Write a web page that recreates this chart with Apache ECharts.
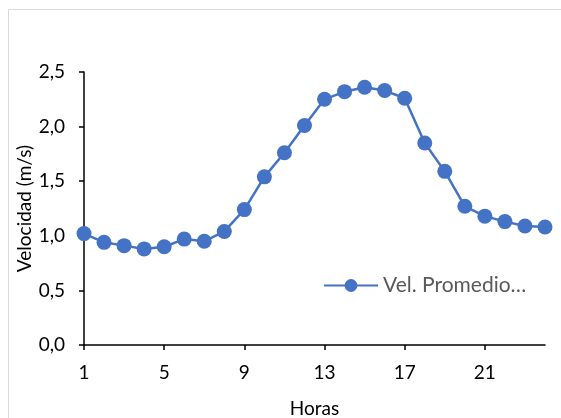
<!DOCTYPE html>
<html>
<head>
<meta charset="utf-8">
<script src="https://cdn.jsdelivr.net/npm/echarts@6/dist/echarts.min.js"></script>
<style>html,body{margin:0;padding:0;background:#fff;}#c{width:561px;height:418px;}</style>
</head>
<body>
<div id="c"></div>
<script>
const hours = ['1','2','3','4','5','6','7','8','9','10','11','12','13','14','15','16','17','18','19','20','21','22','23','24'];
const velocity = [1.02,0.94,0.91,0.88,0.90,0.97,0.95,1.04,1.24,1.54,1.76,2.01,2.25,2.32,2.36,2.33,2.26,1.85,1.59,1.27,1.18,1.13,1.09,1.08];
const seriesName = 'Vel. Promedio…';
const xTitle = 'Horas';
const yTitle = 'Velocidad (m/s)';

const font = 'Lato, "Open Sans", sans-serif';
const chart = echarts.init(document.getElementById('c'));
chart.setOption({
  animation: false,
  textStyle: {fontFamily: font},
  graphic: [{
    type: 'rect', silent: true,
    shape: {x: 8.5, y: 9.5, width: 600, height: 500},
    style: {fill: 'none', stroke: '#d9d9d9', lineWidth: 1}
  }],
  grid: {left: 84, right: 16, top: 72, bottom: 73, containLabel: false, outerBoundsMode: 'none'},
  legend: {
    left: 318, top: 270,
    itemWidth: 54, itemHeight: 16, itemGap: 4,
    textStyle: {color: '#595959', fontSize: 21, fontFamily: font},
    data: [seriesName]
  },
  xAxis: {
    type: 'category', data: hours, boundaryGap: false,
    name: xTitle, nameLocation: 'middle', nameGap: 54, nameMoveOverlap: false,
    nameTextStyle: {color: '#000', fontSize: 19, fontFamily: font},
    axisLine: {lineStyle: {color: '#000', width: 1.5}},
    axisTick: {show: true, inside: false, length: 5, interval: 3, alignWithLabel: true, lineStyle: {color: '#000', width: 1.5}},
    axisLabel: {interval: 3, color: '#000', fontSize: 19, margin: 18, fontFamily: font},
    splitLine: {show: false}
  },
  yAxis: {
    type: 'value', min: 0, max: 2.5, interval: 0.5,
    name: yTitle, nameLocation: 'middle', nameGap: 50, nameRotate: 90, nameMoveOverlap: false,
    nameTextStyle: {color: '#000', fontSize: 19, fontFamily: font},
    axisLine: {show: true, lineStyle: {color: '#000', width: 1.5}},
    axisTick: {show: true, length: 5, lineStyle: {color: '#000', width: 1.5}},
    axisLabel: {color: '#000', fontSize: 19, margin: 19, fontFamily: font,
      formatter: v => v.toFixed(1).replace('.', ',')},
    splitLine: {show: false}
  },
  series: [{
    name: seriesName, type: 'line', data: velocity,
    symbol: 'circle', symbolSize: 15, showAllSymbol: true,
    lineStyle: {color: '#4472C4', width: 2.5},
    itemStyle: {color: '#4472C4'}
  }]
});
</script>
</body>
</html>
